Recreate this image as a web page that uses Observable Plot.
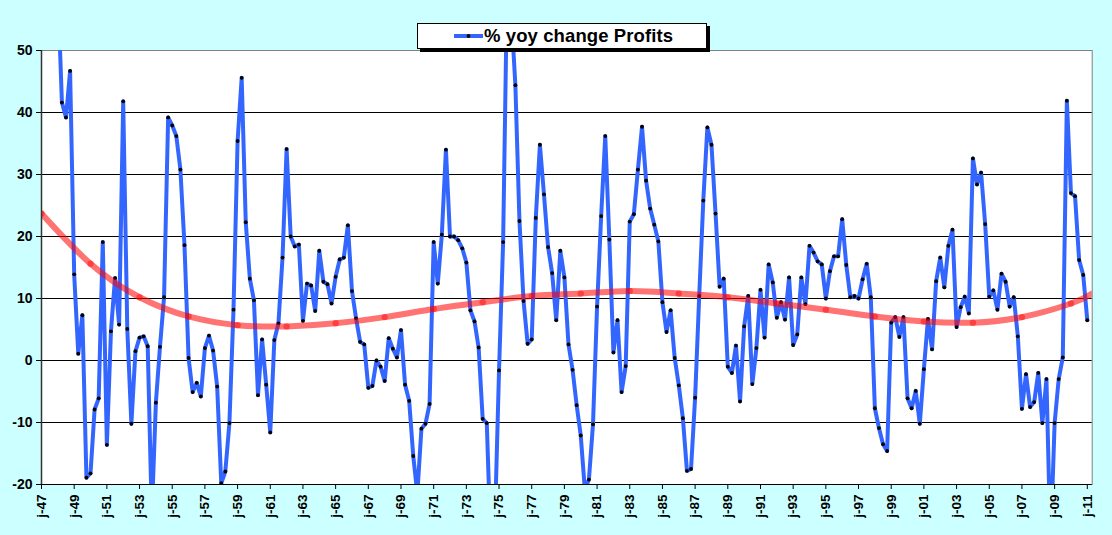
<!DOCTYPE html>
<html>
<head>
<meta charset="utf-8">
<script src="https://cdn.jsdelivr.net/npm/d3@7"></script>
<script src="https://cdn.jsdelivr.net/npm/@observablehq/plot@0.6"></script>
<style>
  html, body { margin: 0; padding: 0; background: #ccffff; }
  #wrap { position: relative; width: 1112px; height: 535px; background: #ccffff; font-family: "Liberation Sans", Arial, sans-serif; }
  #legend { position: absolute; left: 417px; top: 23px; width: 288px; height: 24px; background: #fff; border: 1px solid #000; box-shadow: 3px 3px 0 #000; }
  #legend svg { position: absolute; left: 36px; top: 8px; }
  #legend span { position: absolute; left: 66px; top: 1px; font-size: 18.5px; font-weight: bold; color: #000; white-space: nowrap; letter-spacing: 0.1px; }
</style>
</head>
<body>
<div id="wrap">
  <div id="legend">
    <svg width="30" height="8"><line x1="0" y1="4" x2="29" y2="4" stroke="#3366ff" stroke-width="4"/><circle cx="14.5" cy="4" r="1.9" fill="#000"/></svg>
    <span>% yoy change Profits</span>
  </div>
</div>
<script>
// Quarterly % yoy change in profits, first value = Q1 1948 (4 values per year)
const firstYear = 1948;
const profitsYoY = [
  60, 41.6, 39.2, 46.7,      // 1948
  13.9, 1.1, 7.3, -18.9,     // 1949
  -18.2, -7.9, -6.1, 19.1,   // 1950
  -13.6, 4.7, 13.3, 5.8,     // 1951
  41.8, 5.1, -10.2, 1.5,     // 1952
  3.7, 3.9, 2.3, -25,        // 1953
  -6.8, 2.2, 10.2, 39.2,     // 1954
  37.9, 36.2, 30.8, 18.6,    // 1955
  0.4, -5.1, -3.6, -5.8,     // 1956
  2.0, 4.0, 1.6, -4.2,       // 1957
  -19.8, -17.9, -10.1, 8.2,  // 1958
  35.4, 45.6, 22.3, 13.2,    // 1959
  9.7, -5.6, 3.4, -3.9,      // 1960
  -11.6, 3.3, 6.0, 16.6,     // 1961
  34.1, 20.0, 18.4, 18.7,    // 1962
  6.4, 12.4, 12.1, 8.0,      // 1963
  17.7, 12.7, 12.3, 9.2,     // 1964
  13.5, 16.3, 16.6, 21.8,    // 1965
  11.2, 6.8, 3.0, 2.6,       // 1966
  -4.4, -4.1, 0.0, -1.0,     // 1967
  -3.3, 3.6, 1.9, 0.5,       // 1968
  4.9, -3.9, -6.5, -15.4,    // 1969
  -21.5, -11.0, -10.2, -7.0, // 1970
  19.1, 12.4, 20.3, 34.0,    // 1971
  20.0, 20.0, 19.4, 18.1,    // 1972
  15.8, 8.1, 6.3, 2.1,       // 1973
  -9.4, -10.1, -30, -26,     // 1974
  -1.6, 19.1, 62, 56,        // 1975
  44.4, 22.5, 9.6, 2.7,      // 1976
  3.4, 23.0, 34.8, 26.8,     // 1977
  18.3, 14.1, 6.5, 17.7,     // 1978
  13.4, 2.6, -1.5, -7.2,     // 1979
  -12.1, -20.8, -19.2, -10.3,// 1980
  8.7, 23.3, 36.2, 19.5,     // 1981
  1.3, 6.5, -5.1, -0.9,      // 1982
  22.4, 23.6, 30.8, 37.7,    // 1983
  29.0, 24.5, 21.9, 19.2,    // 1984
  9.4, 4.6, 8.1, 0.4,        // 1985
  -4.0, -9.3, -17.8, -17.5,  // 1986
  -6.0, 10.4, 25.8, 37.6,    // 1987
  34.8, 23.7, 11.9, 13.2,    // 1988
  -1.0, -2.0, 2.4, -6.6,     // 1989
  5.5, 10.4, -3.8, 2.0,      // 1990
  11.4, 3.7, 15.5, 12.6,     // 1991
  6.9, 9.4, 6.6, 13.4,       // 1992
  2.5, 4.2, 13.4, 9.1,       // 1993
  18.5, 17.4, 16.0, 15.5,    // 1994
  10.0, 14.4, 16.8, 16.8,    // 1995
  22.8, 15.4, 10.2, 10.4,    // 1996
  10.0, 13.1, 15.6, 10.2,    // 1997
  -7.7, -10.9, -13.5, -14.6, // 1998
  6.1, 7.0, 3.8, 7.0,        // 1999
  -6.1, -7.7, -4.9, -10.2,   // 2000
  -1.4, 6.7, 1.8, 12.8,      // 2001
  16.6, 11.8, 18.5, 21.1,    // 2002
  5.4, 8.6, 10.3, 7.6,       // 2003
  32.6, 28.4, 30.3, 22.0,    // 2004
  10.3, 11.3, 8.2, 14.0,     // 2005
  12.7, 8.7, 10.2, 3.9,      // 2006
  -7.8, -2.2, -7.5, -6.7,    // 2007
  -2.0, -10.1, -3.0, -30,    // 2008
  -10.1, -3.0, 0.5, 41.9,    // 2009
  27.0, 26.5, 16.2, 13.8,    // 2010
  6.5                        // 2011
];

// Polynomial trend line, read every three years (with its end at the right edge)
const trendYears  = [1947, 1950, 1953, 1956, 1959, 1962, 1965, 1968, 1971, 1974, 1977, 1980, 1983, 1986, 1989, 1992, 1995, 1998, 2001, 2004, 2007, 2010, 2011.3];
const trendValues = [23.7, 15.6, 10.2, 7.1, 5.7, 5.5, 6.0, 7.0, 8.3, 9.4, 10.4, 10.8, 11.2, 10.8, 10.2, 9.2, 8.2, 7.1, 6.3, 6.1, 7.0, 9.2, 10.8];
const trendMarkerYears = [1947, 1950, 1953, 1956, 1959, 1962, 1965, 1968, 1971, 1974, 1977, 1980, 1983, 1986, 1989, 1992, 1995, 1998, 2001, 2004, 2007, 2010];

// Axes
const xDomain = [1947, 2011.3];
const tickYears = [1947, 1949, 1951, 1953, 1955, 1957, 1959, 1961, 1963, 1965, 1967, 1969, 1971, 1973, 1975, 1977, 1979, 1981, 1983, 1985, 1987, 1989, 1991, 1993, 1995, 1997, 1999, 2001, 2003, 2005, 2007, 2009, 2011];
const tickLabels = ["j-47", "j-49", "j-51", "j-53", "j-55", "j-57", "j-59", "j-61", "j-63", "j-65", "j-67", "j-69", "j-71", "j-73", "j-75", "j-77", "j-79", "j-81", "j-83", "j-85", "j-87", "j-89", "j-91", "j-93", "j-95", "j-97", "j-99", "j-01", "j-03", "j-05", "j-07", "j-09", "j-11"];
const yDomain = [-20, 50];
const yTicks = [-20, -10, 0, 10, 20, 30, 40, 50];
const yGrid = [-10, 0, 10, 20, 30, 40];

const profitRows = profitsYoY.map((v, i) => ({year: firstYear + i / 4, value: v}));
const trendRows = trendYears.map((y, i) => ({year: y, value: trendValues[i]}));
const trendMarkers = trendRows.filter(d => trendMarkerYears.includes(d.year));
const labelOf = new Map(tickYears.map((y, i) => [y, tickLabels[i]]));

const chart = Plot.plot({
  width: 1112,
  height: 535,
  marginLeft: 41,
  marginRight: 20.3,
  marginTop: 50,
  marginBottom: 51,
  style: {background: "transparent", fontFamily: "'Liberation Sans', Arial, sans-serif", color: "#000"},
  x: {domain: xDomain},
  y: {domain: yDomain},
  marks: [
    Plot.frame({fill: "#fff", stroke: "#808080"}),
    Plot.gridY(yGrid, {stroke: "#000", strokeOpacity: 1, strokeWidth: 1}),
    Plot.line(profitRows, {x: "year", y: "value", stroke: "#3366ff", strokeWidth: 4, strokeLinejoin: "round", clip: true}),
    Plot.dot(profitRows, {x: "year", y: "value", r: 1.9, fill: "#000", stroke: "none", clip: true}),
    Plot.line(trendRows, {x: "year", y: "value", curve: "natural", stroke: "#ff0000", strokeOpacity: 0.55, strokeWidth: 6, clip: true}),
    Plot.dot(trendMarkers, {x: "year", y: "value", r: 3.2, fill: "#ff0000", fillOpacity: 0.45, stroke: "none", clip: true}),
    Plot.ruleX([xDomain[0]], {stroke: "#333", strokeWidth: 1.5}),
    Plot.ruleY([yDomain[0]], {stroke: "#000", strokeWidth: 1}),
    Plot.axisY(yTicks, {anchor: "left", tickSize: 5, tickPadding: 4, fontSize: 14, fontWeight: "bold", stroke: "#000", tickFormat: d => String(d), label: null}),
    Plot.axisX(tickYears, {anchor: "bottom", tickSize: 5, tickPadding: 5, tickRotate: -90, fontSize: 13.5, fontWeight: "bold", tickFormat: d => labelOf.get(d), label: null})
  ]
});
document.getElementById("wrap").prepend(chart);
</script>
</body>
</html>
